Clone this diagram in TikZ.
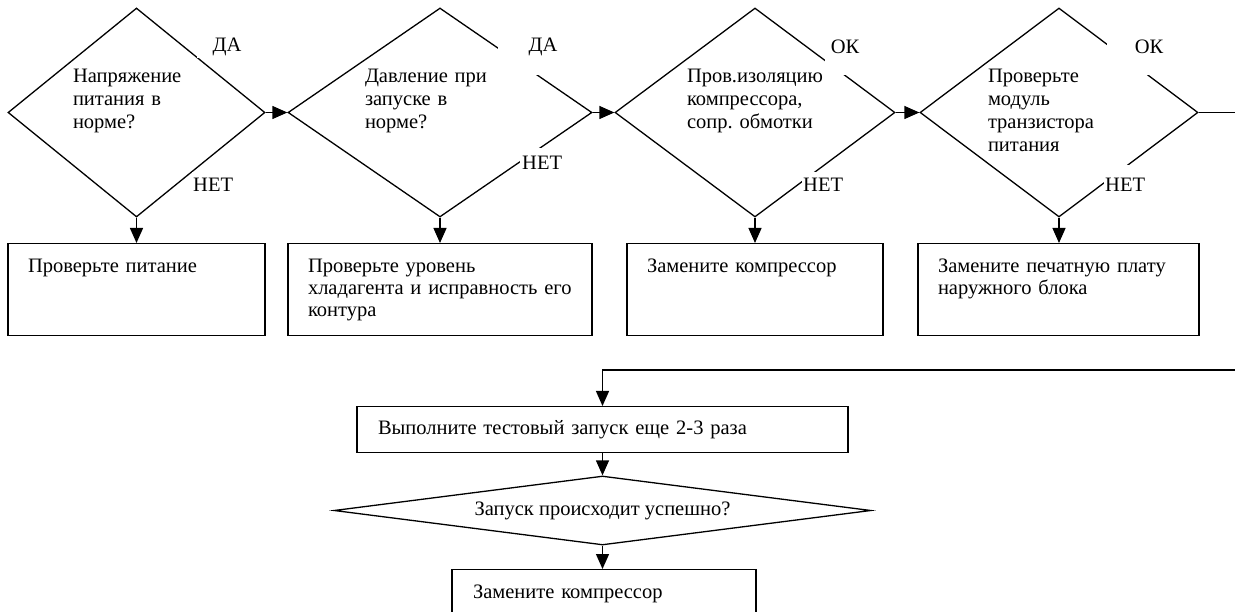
\documentclass[tikz,border=0pt]{standalone}
\usepackage{fontspec}
\setmainfont{Liberation Serif}
\usetikzlibrary{shapes.geometric,arrows.meta}
\frenchspacing
\begin{document}
\begin{tikzpicture}[x=1pt,y=-1pt,
  every node/.style={font=\fontsize{20.5}{23}\selectfont},
  dec/.style={draw, line width=1.3pt, diamond, inner sep=0pt, align=left},
  boxn/.style={draw, line width=1.3pt, rectangle, inner xsep=20pt, inner ysep=0pt,
    minimum height=92pt, align=left, font=\fontsize{20.5}{22}\selectfont},
  lab/.style={fill=white, inner sep=0pt},
  conn/.style={line width=1.3pt, -{Triangle[length=15pt,width=13pt]}}]
\useasboundingbox (0,0) rectangle (1235,612);
\clip (0,0) rectangle (1235,612);

% decisions, top row
\node[dec, aspect=1.23, minimum width=257pt, minimum height=209pt, text width=127pt] (d1) at (136.5,112.5)
  {\strut Напряжение\\\strut питания в\\\strut норме?\\\strut};
\node[dec, aspect=1.45, minimum width=304pt, minimum height=209pt, text width=150pt] (d2) at (440,112.5)
  {\strut Давление при\\\strut запуске в\\\strut норме?\\\strut};
\node[dec, aspect=1.34, minimum width=280pt, minimum height=209pt, text width=136pt] (d3) at (755,112.5)
  {\strut Пров.изоляцию\\\strut компрессора,\\\strut сопр. обмотки\\\strut};
\node[dec, aspect=1.33, minimum width=278pt, minimum height=209pt, text width=142pt] (d4) at (1059,112.5)
  {\strut Проверьте\\\strut модуль\\\strut транзистора\\\strut питания};

% action boxes, top row
\node[boxn, text width=217pt, anchor=north] (b1) at (136.5,243)
  {\strut Проверьте питание\\\strut\\\strut};
\node[boxn, text width=264pt, anchor=north] (b2) at (440,243)
  {\strut Проверьте уровень\\\strut\mbox{хладагента и исправность его}\\\strut контура};
\node[boxn, text width=216pt, anchor=north] (b3) at (755,243)
  {\strut Замените компрессор\\\strut\\\strut};
\node[boxn, text width=241pt, anchor=north] (b4) at (1058.5,243)
  {\strut Замените печатную плату\\\strut наружного блока\\\strut};

% bottom part
\node[draw, line width=1.3pt, rectangle, inner xsep=21pt, inner ysep=0pt, minimum height=46pt,
  text width=449pt, align=left, anchor=north] (b5) at (602.5,406)
  {Выполните тестовый запуск еще 2-3 раза};
\node[dec, aspect=7.8, minimum width=537pt, minimum height=69pt, align=center] (d5) at (602.5,510.5)
  {Запуск происходит успешно?};
\node[boxn, inner xsep=21pt, text width=262pt, anchor=north] (b6) at (604,569)
  {\strut Замените компрессор\\\strut\\\strut};

% connectors
\draw[conn] (d1.east) -- (d2.west);
\draw[conn] (d2.east) -- (d3.west);
\draw[conn] (d3.east) -- (d4.west);
\draw[conn] (d1.south) -- (d1.south |- b1.north);
\draw[conn] (d2.south) -- (d2.south |- b2.north);
\draw[conn] (d3.south) -- (d3.south |- b3.north);
\draw[conn] (d4.south) -- (d4.south |- b4.north);
\coordinate (r1) at (1260,112.5);
\coordinate (r2) at (1260,370);
\draw[conn] (d4.east) -- (r1) -- (r2) -| (b5.north);
\draw[conn] (b5.south) -- (d5.north);
\draw[conn] (d5.south) -- (d5.south |- b6.north);

% branch labels (white text boxes that break the outlines)
\node[lab, minimum width=60pt, minimum height=22pt] (y1) at (227,47) {ДА};
\node[lab, minimum width=90pt, minimum height=56pt] (y2) at (543,47) {ДА};
\node[lab, minimum width=40pt, minimum height=56pt] (y3) at (845,47) {ОК};
\node[lab, minimum width=84pt, minimum height=56pt] (y4) at (1149,47) {ОК};
\node[lab, anchor=north west, inner xsep=1pt, minimum height=26pt] (n1) at (192,172) {НЕТ};
\node[lab, anchor=north west, inner xsep=2pt, minimum height=30pt] (n2) at (520,148) {НЕТ};
\node[lab, anchor=north west, inner xsep=1pt, minimum height=26pt] (n3) at (802,172) {НЕТ};
\node[lab, anchor=north west, inner xsep=1pt, minimum height=40pt] (n4) at (1104,165) {НЕТ};
\end{tikzpicture}
\end{document}
